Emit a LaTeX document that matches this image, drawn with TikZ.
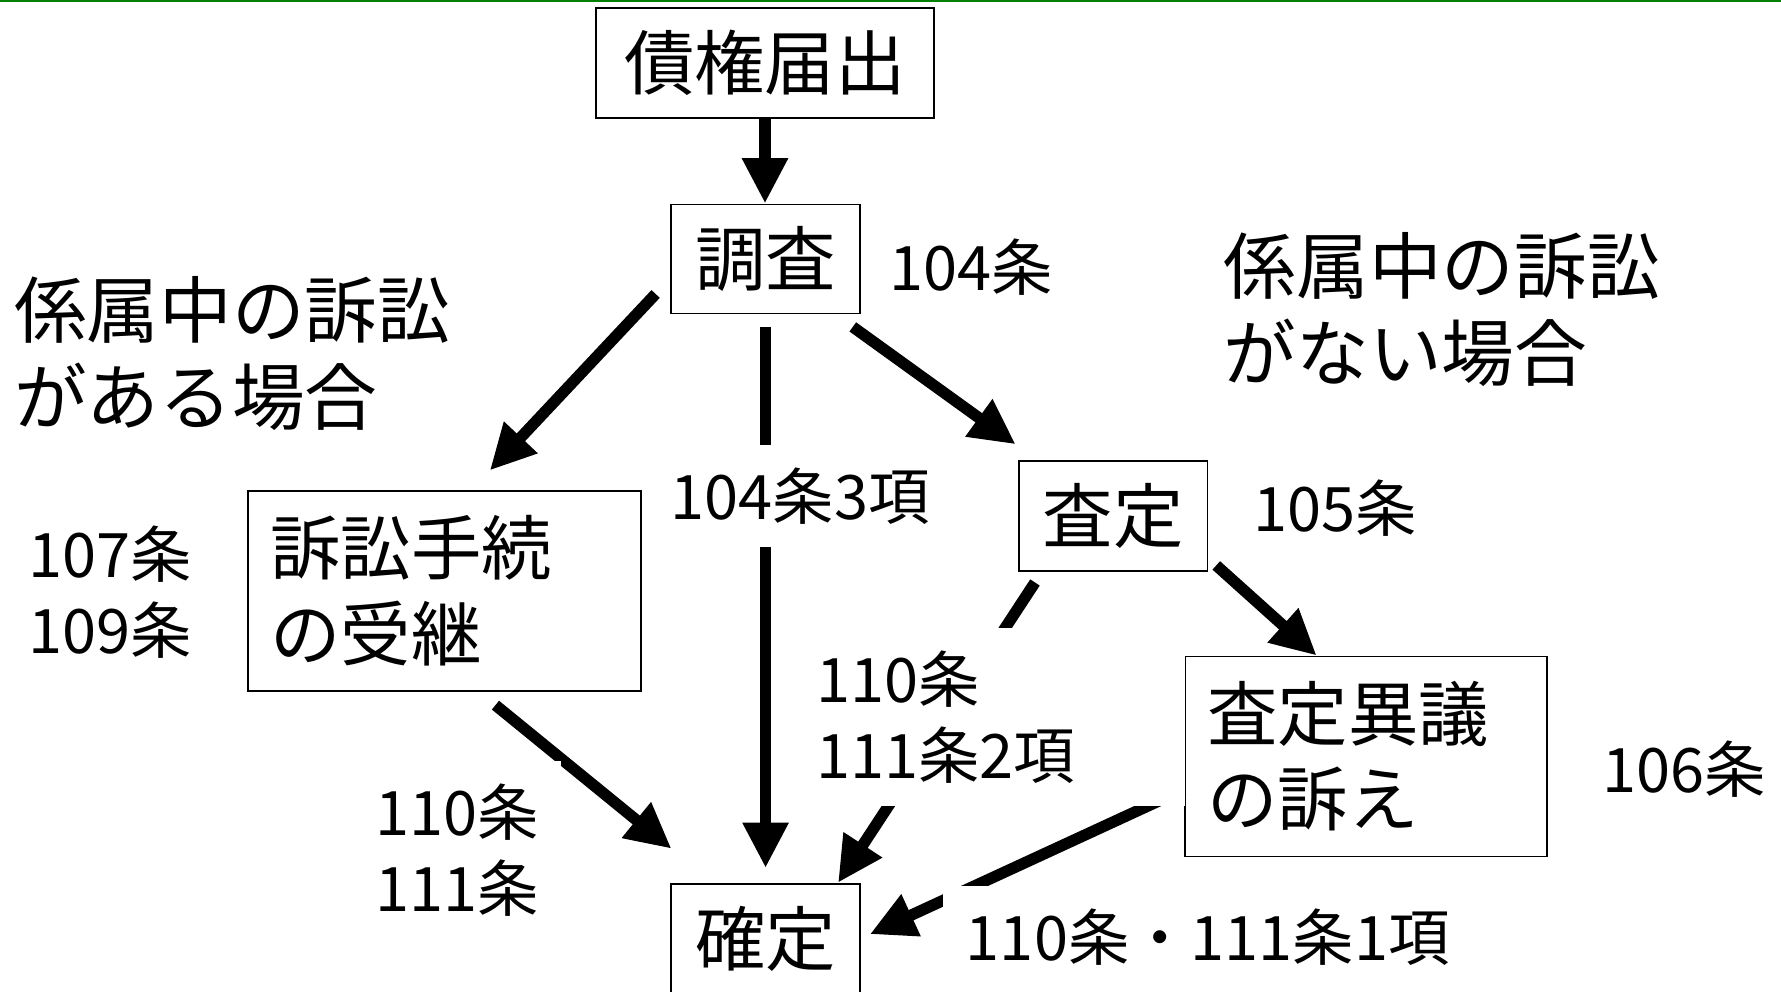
\documentclass[tikz,border=0pt]{standalone}
\usepackage{fontspec}
\setmainfont{Noto Sans CJK JP}
\usetikzlibrary{arrows.meta}
\begin{document}
\begin{tikzpicture}[x=0.5pt,y=-0.5pt,
  box/.style={draw, line width=0.8pt, fill=white, inner sep=0pt, font=\fontsize{31}{37.5}\selectfont},
  arr/.style={line width=5pt, -{Triangle[length=20pt,width=19pt]}},
  lbl/.style={fill=white, inner sep=10pt, anchor=west, align=left, font=\fontsize{27}{33.5}\selectfont},
  note/.style={inner sep=0pt, anchor=west, align=left, font=\fontsize{32}{38.5}\selectfont}]
\useasboundingbox (0,0) rectangle (1568,873);
\draw[green!50!black, line width=1pt] (0,1) -- (1568,1);
% boxes
\node[box, minimum width=148.5pt, minimum height=48.5pt] (kenri) at (673.5,55.5) {債権届出};
\node[box, minimum width=83pt, minimum height=48pt] (chosa) at (674,228) {調査};
\node[box, minimum width=83pt, minimum height=48.5pt] (satei) at (980,454.5) {査定};
\node[box, minimum width=173pt, minimum height=88pt, text width=153pt, align=left] (sosho) at (391,520) {訴訟手続\\の受継};
\node[box, minimum width=159.5pt, minimum height=88pt, text width=139.5pt, align=left] (igi) at (1202.5,666) {査定異議\\の訴え};
\node[box, minimum width=83pt, minimum height=48.5pt] (kakutei) at (674,826.5) {確定};
% notes
\node[note] (ari) at (12,311) {係属中の訴訟\\がある場合};
\node[note] (nashi) at (1077,272.5) {係属中の訴訟\\がない場合};
% arrows
\draw[arr] (kenri.south) -- (kenri.south |- chosa.north);
\draw[arr] ([shift={(-13,-18)}]chosa.south west) -- ([shift={(214,-17)}]sosho.north west);
\draw[arr] ([shift={(0,11)}]chosa.south) -- ([shift={(0,-13)}]kakutei.north);
\draw[arr] ([shift={(-7,11)}]chosa.south east) -- ([shift={(-2,-14)}]satei.north west);
\draw[arr] ([shift={(7,-6)}]satei.south east) -- ([shift={(117,0)}]igi.north west);
\draw[arr] ([shift={(15,9)}]satei.south west) -- ([shift={(-20,0)}]kakutei.north east);
\draw[arr] ([shift={(219,12)}]sosho.south west) -- ([shift={(1,-30)}]kakutei.north west);
\draw[arr] ([shift={(0,29)}]igi.west) -- ([shift={(8,-4)}]kakutei.east);
% labels
\node[lbl] (l104) at (763,235) {104条};
\node[lbl] (l104c3) at (570,437) {104条3項};
\node[lbl] (l105) at (1083,447) {105条};
\node[lbl] (l106) at (1390,677) {106条};
\node[lbl] (l107) at (5,521.5) {107条\\109条};
\node[lbl, text width=152.5pt] (l110a) at (698,631.5) {110条\\111条2項};
\node[lbl] (l110b) at (310,748.5) {110条\\111条};
\node[lbl] (l110c) at (830,825) {110条・111条1項};
\end{tikzpicture}
\end{document}
